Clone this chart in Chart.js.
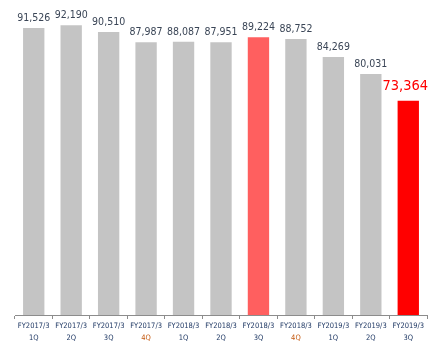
<!DOCTYPE html>
<html>
<head>
<meta charset="utf-8">
<script src="https://cdn.jsdelivr.net/npm/chart.js@4/dist/chart.umd.min.js"></script>
<style>
  html, body { margin: 0; padding: 0; background: #fff; }
  #wrap { width: 435px; height: 343px; }
</style>
</head>
<body>
<div id="wrap"><canvas id="barChart" width="435" height="343"></canvas></div>
<script>
// quarterly figures
var periods = ['FY2017/3', 'FY2017/3', 'FY2017/3', 'FY2017/3', 'FY2018/3', 'FY2018/3', 'FY2018/3', 'FY2018/3', 'FY2019/3', 'FY2019/3', 'FY2019/3'];
var quarters = ['1Q', '2Q', '3Q', '4Q', '1Q', '2Q', '3Q', '4Q', '1Q', '2Q', '3Q'];
var values = [91526, 92190, 90510, 87987, 88087, 87951, 89224, 88752, 84269, 80031, 73364];

var barColors = values.map(function (v, i) {
    if (i === values.length - 1) return '#ff0000';
    if (i === 6) return '#ff5f5f';
    return '#c4c4c4';
});

var FONT = '"DejaVu Sans Condensed", "DejaVu Sans", sans-serif';

// value labels on top of each bar + two-line category labels under the axis
var barLabels = {
    id: 'barLabels',
    afterDatasetsDraw: function (chart) {
        var ctx = chart.ctx;
        var meta = chart.getDatasetMeta(0);
        var xScale = chart.scales.x;
        var bottom = chart.chartArea.bottom;
        ctx.save();
        ctx.textAlign = 'center';
        ctx.textBaseline = 'alphabetic';
        meta.data.forEach(function (bar, i) {
            var last = i === values.length - 1;
            ctx.fillStyle = last ? '#ff0000' : '#3a4556';
            ctx.font = last ? '14.5px ' + FONT : '10.5px ' + FONT;
            ctx.fillText(values[i].toLocaleString('en-US'), bar.x + (last ? -3 : 0), bar.y - (last ? 11 : 7));
        });
        ctx.font = '7.5px ' + FONT;
        periods.forEach(function (p, i) {
            var x = xScale.getPixelForValue(i);
            ctx.fillStyle = '#1f3864';
            ctx.fillText(p, x, bottom + 13);
            ctx.fillStyle = quarters[i] === '4Q' ? '#c55a11' : '#1f3864';
            ctx.fillText(quarters[i], x, bottom + 25);
        });
        ctx.restore();
    }
};

var ctx = document.getElementById('barChart');
var barGraph = new Chart(ctx, {
    type: 'bar',
    data: {
        labels: periods.map(function (p, i) { return p + ' ' + quarters[i]; }),
        datasets: [{
            data: values,
            backgroundColor: barColors,
            barPercentage: 0.57,
            categoryPercentage: 1.0
        }]
    },
    options: {
        responsive: false,
        animation: false,
        layout: { padding: { left: 15, right: 8, top: 14, bottom: 24 } },
        plugins: { legend: { display: false }, tooltip: { enabled: false } },
        scales: {
            y: { display: false, min: 20000, max: 95000 },
            x: {
                offset: true,
                border: { display: true, color: '#8c8c8c', width: 1 },
                grid: { display: true, drawOnChartArea: false, offset: true, tickLength: 4, color: '#8c8c8c' },
                ticks: { display: false }
            }
        }
    },
    plugins: [barLabels]
});
</script>
</body>
</html>
